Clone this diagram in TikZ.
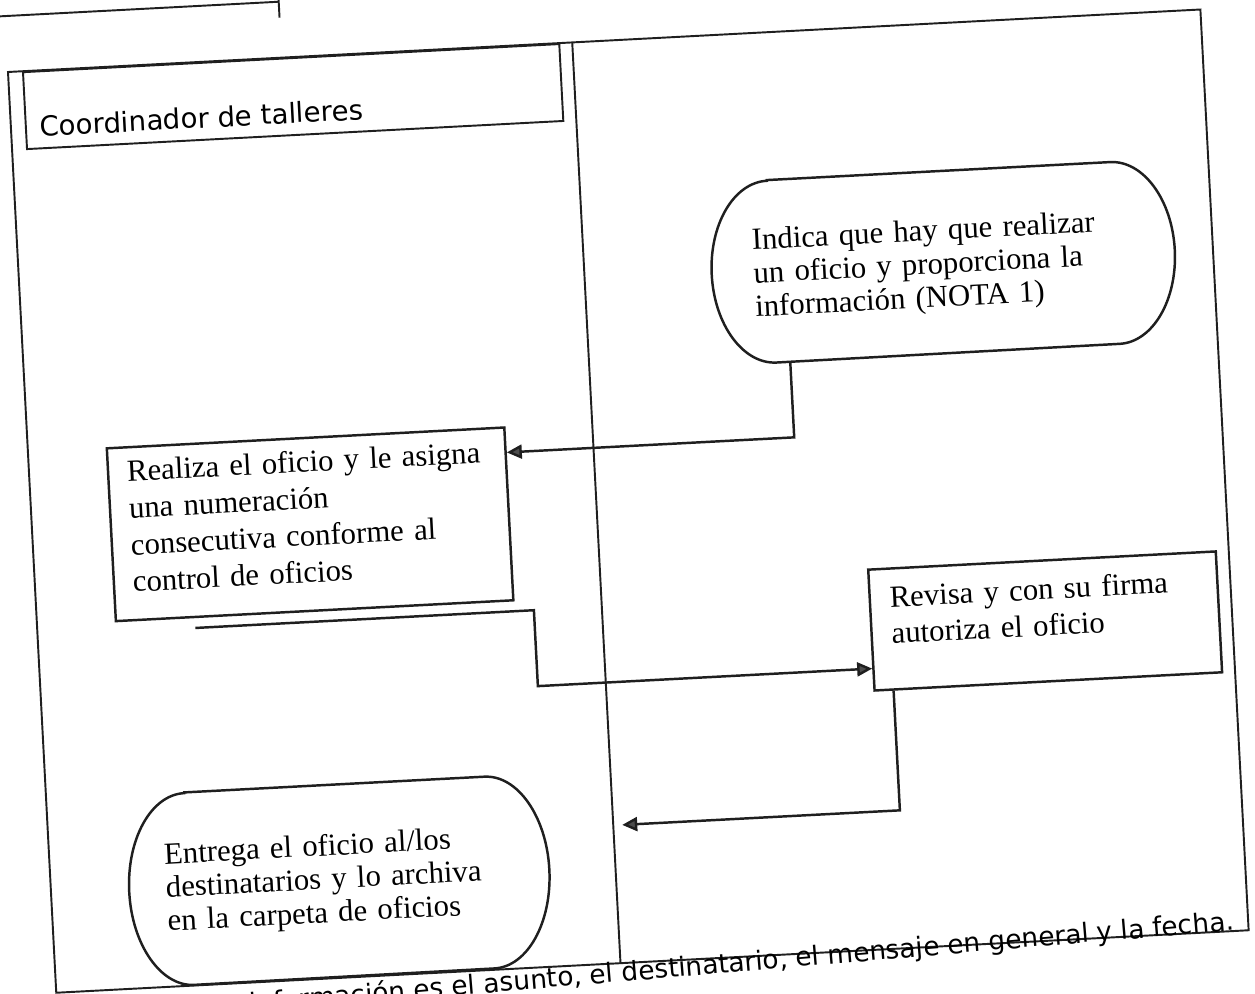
\documentclass[tikz,border=0pt]{standalone}
\usepackage{fontspec}
\setmainfont{Liberation Serif}
\newfontfamily\lanefont{DejaVu Sans}
\usetikzlibrary{arrows.meta,positioning,calc}
\definecolor{scanink}{HTML}{1F1F1F}
\definecolor{tipgray}{HTML}{4D4D4D}
\tikzset{
  lanerule/.style={draw=scanink, line width=1.1pt},
  actbox/.style={
    rectangle, draw=scanink, line width=1.4pt, fill=white,
    align=left, inner sep=0pt, font=\fontsize{17.5}{#1}\selectfont
  },
  actbox/.default=20,
  termnode/.style={
    rectangle, inner sep=0pt, align=left,
    font=\fontsize{17.5}{#1}\selectfont
  },
  termnode/.default=18.2,
  termline/.style={draw=scanink, line width=1.4pt},
  flowarrow/.style={
    draw=scanink, line width=1.4pt,
    -{Triangle[length=3mm, width=2.8mm, fill=tipgray]}
  },
  lanetext/.style={font=\lanefont\fontsize{#1}{18}\selectfont},
  lanetext/.default=15,
}

\begin{document}
\begin{tikzpicture}[x=0.2mm, y=-0.2mm]
  \useasboundingbox (0,0) rectangle (1255,993);
  \fill[white] (0,0) rectangle (1255,993);
  \clip (0,0) rectangle (1255,993);

  \begin{scope}[transform canvas={shift={(8,72)}, rotate=3}]
  % rest of the table above
  \draw[lanerule] (-30,-56) -- (274,-56);
  \draw[lanerule] (274,-90) -- (274,-40);

  % frame and lanes
  \draw[lanerule] (0,0) rectangle (1194,922);
  \draw[lanerule] (565,0) -- (565,922);
  \node[lanerule, rectangle, inner sep=0pt, anchor=north west,
        minimum width=107.4mm, minimum height=15.4mm] (lanehead) at (14,0) {};
  \node[lanetext=15.7, anchor=base west] (lanename) at (23,66) {Coordinador de talleres};

  % activities
  \node[termnode=19, minimum width=92.6mm, text width=76mm, text height=13.7mm, text depth=22.7mm]
    (indica) at (924,239) {Indica que hay que realizar\\un oficio y proporciona la\\información (NOTA 1)};
  \node[actbox=21, minimum width=79.6mm, text width=72mm, text height=6.8mm, text depth=27.8mm]
    (realiza) at (278,467.5) {Realiza el oficio y le asigna\\una numeración\\consecutiva conforme al\\control de oficios};
  \node[actbox=20.5, minimum width=69.6mm, text width=61.6mm, text height=7.8mm, text depth=16.4mm]
    (revisa) at (1007,602.5) {Revisa y con su firma\\autoriza el oficio};
  \node[termnode=19, minimum width=84mm, minimum height=38.4mm, text width=69.4mm]
    (entrega) at (288.5,825) {Entrega el oficio al/los\\destinatarios y lo archiva\\en la carpeta de oficios};

  % terminal outlines
  \foreach \t/\rx/\ry in {indica/12mm/18.2mm, entrega/12mm/19.2mm} {
    \draw[termline] ([xshift=\rx]\t.north west) -- ([xshift=-\rx]\t.north east)
      arc[start angle=90, end angle=-90, x radius=\rx, y radius=\ry]
      -- ([xshift=\rx]\t.south west)
      arc[start angle=270, end angle=90, x radius=\rx, y radius=\ry] -- cycle;
  }

  % connectors
  \coordinate (a1) at (766,406);
  \draw[flowarrow] (a1 |- indica.south) -- (a1) -- (a1 -| realiza.east);

  \coordinate (b0) at (158,565);
  \coordinate (b1) at (497,565);
  \coordinate (b2) at (497,641);
  \draw[flowarrow] (b0) -- (b1) -- (b2) -- (b2 -| revisa.west);

  \coordinate (c1) at (852,784);
  \coordinate (c2) at (574,784);
  \draw[flowarrow] (c1 |- revisa.south) -- (c1) -- (c2);

  % note under the frame
  \node[lanetext, anchor=base east, rotate=1.8] (nota) at (1186,921)
    {información es el asunto, el destinatario, el mensaje en general y la fecha.};
  \end{scope}
\end{tikzpicture}
\end{document}
